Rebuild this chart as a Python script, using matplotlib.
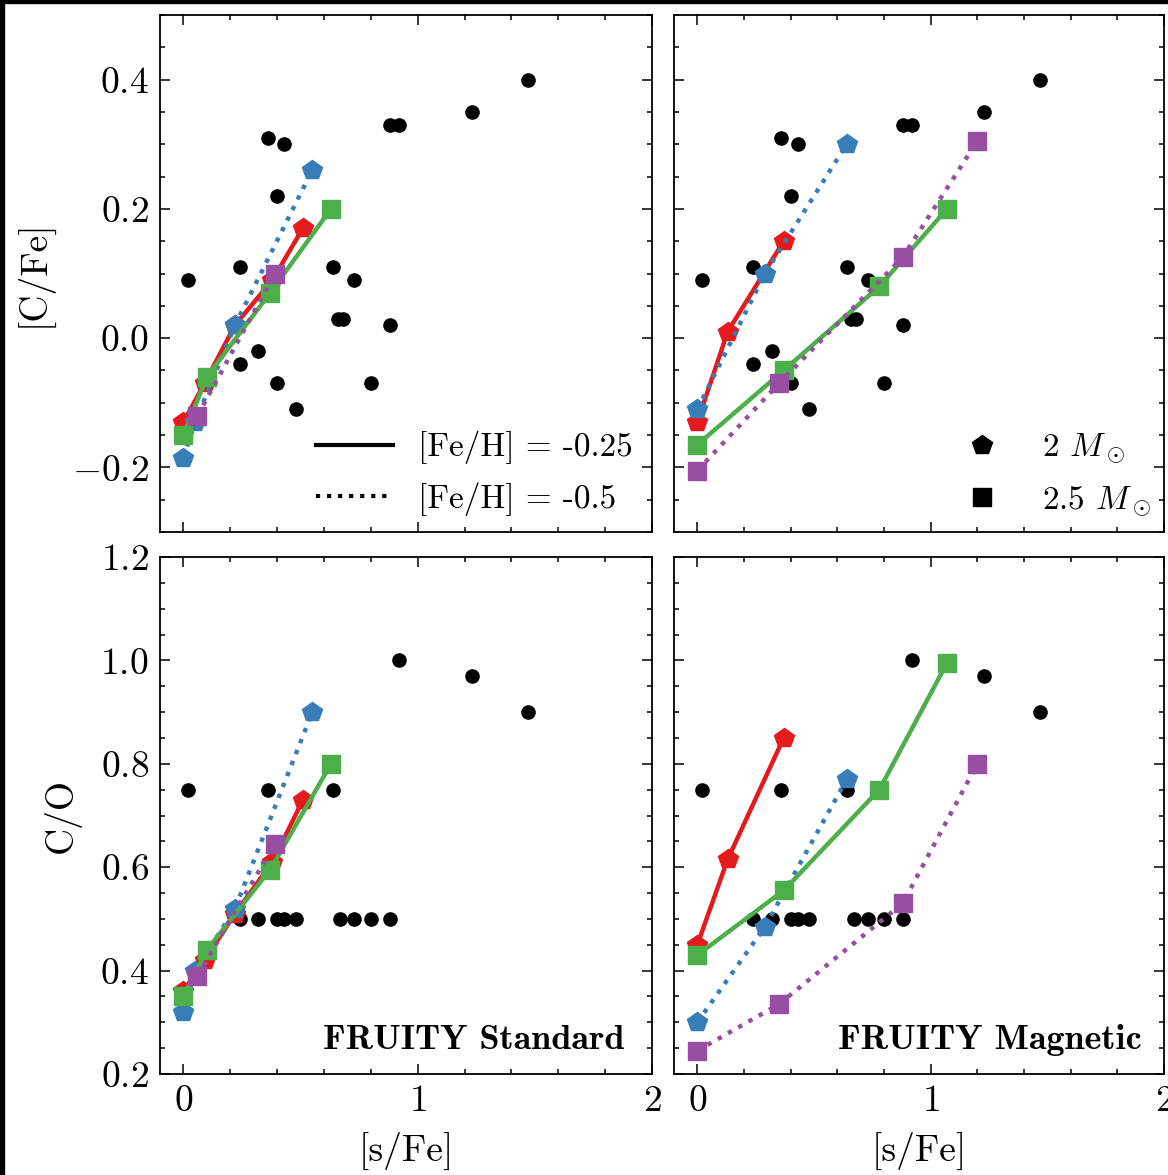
import matplotlib
matplotlib.use("Agg")
import matplotlib.pyplot as plt
from matplotlib.lines import Line2D
from matplotlib.patches import Rectangle
from matplotlib.ticker import MultipleLocator

plt.rcParams.update({
    "font.family": "serif",
    "font.serif": ["cmr10"],
    "mathtext.fontset": "cm",
    "axes.formatter.use_mathtext": True,
    "axes.linewidth": 1.3,
    "xtick.direction": "in",
    "ytick.direction": "in",
    "xtick.top": True,
    "ytick.right": True,
})

# observed stars: [s/Fe], [C/Fe]
obs_sfe = [0.02, 0.24, 0.24, 0.32, 0.36, 0.40, 0.40, 0.43, 0.48, 0.64, 0.66, 0.68,
           0.73, 0.80, 0.88, 0.88, 0.92, 1.23, 1.47]
obs_cfe = [0.09, 0.11, -0.04, -0.02, 0.31, 0.22, -0.07, 0.30, -0.11, 0.11, 0.03, 0.03,
           0.09, -0.07, 0.33, 0.02, 0.33, 0.35, 0.40]
# observed stars: [s/Fe], C/O
obs_sfe_co = [0.02, 0.36, 0.64, 0.92, 1.23, 1.47,
              0.24, 0.32, 0.40, 0.43, 0.48, 0.67, 0.73, 0.80, 0.88]
obs_co = [0.75, 0.75, 0.75, 1.00, 0.97, 0.90,
          0.50, 0.50, 0.50, 0.50, 0.50, 0.50, 0.50, 0.50, 0.50]

# FRUITY standard models
std_red_sfe = [0.0, 0.09, 0.22, 0.38, 0.51]
std_red_cfe = [-0.13, -0.07, 0.02, 0.09, 0.17]
std_red_co = [0.36, 0.42, 0.51, 0.61, 0.73]
std_blue_sfe = [0.0, 0.05, 0.22, 0.55]
std_blue_cfe = [-0.185, -0.13, 0.02, 0.26]
std_blue_co = [0.32, 0.40, 0.52, 0.90]
std_green_sfe = [0.0, 0.10, 0.37, 0.63]
std_green_cfe = [-0.15, -0.06, 0.07, 0.20]
std_green_co = [0.35, 0.44, 0.595, 0.80]
std_purple_sfe = [0.06, 0.39]
std_purple_cfe = [-0.12, 0.10]
std_purple_co = [0.39, 0.645]

# FRUITY magnetic models
mag_red_sfe = [0.0, 0.13, 0.37]
mag_red_cfe = [-0.13, 0.01, 0.15]
mag_red_co = [0.45, 0.615, 0.85]
mag_blue_sfe = [0.0, 0.29, 0.64]
mag_blue_cfe = [-0.11, 0.10, 0.30]
mag_blue_co = [0.30, 0.485, 0.77]
mag_green_sfe = [0.0, 0.37, 0.78, 1.07]
mag_green_cfe = [-0.165, -0.05, 0.08, 0.20]
mag_green_co = [0.43, 0.555, 0.75, 0.995]
mag_purple_sfe = [0.0, 0.35, 0.88, 1.20]
mag_purple_cfe = [-0.205, -0.07, 0.125, 0.305]
mag_purple_co = [0.245, 0.335, 0.53, 0.80]

red = "#e41a1c"
blue = "#377eb8"
green = "#4daf4a"
purple = "#984ea3"

W, H = 1168, 1175
fig = plt.figure(figsize=(W / 100, H / 100), dpi=100)


def box(x0, x1, y0, y1):
    return [x0 / W, 1 - y1 / H, (x1 - x0) / W, (y1 - y0) / H]


ax_tl = fig.add_axes(box(160, 652, 15, 532))
ax_tr = fig.add_axes(box(674, 1164, 15, 532))
ax_bl = fig.add_axes(box(160, 652, 557, 1074))
ax_br = fig.add_axes(box(674, 1164, 557, 1074))


def draw(ax, models, obs_x, obs_y):
    ax.plot(obs_x, obs_y, "o", color="k", ms=9.5, ls="none", zorder=2)
    for x, y, c, m, ls in models:
        ms = 15 if m == "p" else 13.5
        ax.plot(x, y, color=c, ls=ls, lw=3.2, marker=m, ms=ms, mew=1, zorder=3)


std_top = [(std_red_sfe, std_red_cfe, red, "p", "-"),
           (std_blue_sfe, std_blue_cfe, blue, "p", ":"),
           (std_green_sfe, std_green_cfe, green, "s", "-"),
           (std_purple_sfe, std_purple_cfe, purple, "s", ":")]
mag_top = [(mag_red_sfe, mag_red_cfe, red, "p", "-"),
           (mag_blue_sfe, mag_blue_cfe, blue, "p", ":"),
           (mag_green_sfe, mag_green_cfe, green, "s", "-"),
           (mag_purple_sfe, mag_purple_cfe, purple, "s", ":")]
std_bot = [(std_red_sfe, std_red_co, red, "p", "-"),
           (std_blue_sfe, std_blue_co, blue, "p", ":"),
           (std_green_sfe, std_green_co, green, "s", "-"),
           (std_purple_sfe, std_purple_co, purple, "s", ":")]
mag_bot = [(mag_red_sfe, mag_red_co, red, "p", "-"),
           (mag_blue_sfe, mag_blue_co, blue, "p", ":"),
           (mag_green_sfe, mag_green_co, green, "s", "-"),
           (mag_purple_sfe, mag_purple_co, purple, "s", ":")]

draw(ax_tl, std_top, obs_sfe, obs_cfe)
draw(ax_tr, mag_top, obs_sfe, obs_cfe)
draw(ax_bl, std_bot, obs_sfe_co, obs_co)
draw(ax_br, mag_bot, obs_sfe_co, obs_co)

for ax in (ax_tl, ax_tr, ax_bl, ax_br):
    ax.set_xlim(-0.1, 2.0)
    ax.xaxis.set_major_locator(MultipleLocator(1))
    ax.xaxis.set_minor_locator(MultipleLocator(0.2))
    ax.tick_params(which="major", length=7, width=1.1, labelsize=27, pad=8)
    ax.tick_params(which="minor", length=3.6, width=1.1)
    ax.tick_params(which="both", top=True, right=True)

for ax in (ax_tl, ax_tr):
    ax.set_ylim(-0.3, 0.5)
    ax.yaxis.set_major_locator(MultipleLocator(0.2))
    ax.yaxis.set_minor_locator(MultipleLocator(0.05))
    ax.tick_params(labelbottom=False)
for ax in (ax_bl, ax_br):
    ax.set_ylim(0.2, 1.2)
    ax.yaxis.set_major_locator(MultipleLocator(0.2))
    ax.yaxis.set_minor_locator(MultipleLocator(0.05))
    ax.set_xlabel("[s/Fe]", fontsize=27, labelpad=10)
for ax in (ax_tr, ax_br):
    ax.tick_params(labelleft=False)

ax_tl.set_ylabel("[C/Fe]", fontsize=27, labelpad=14)
ax_bl.set_ylabel("C/O", fontsize=27, labelpad=14)

feh_handles = [Line2D([], [], color="k", lw=3, ls="-"),
               Line2D([], [], color="k", lw=3, ls=":")]
ax_tl.legend(feh_handles, ["[Fe/H] = -0.25", "[Fe/H] = -0.5"], loc="lower right",
             bbox_to_anchor=(0.988, 0.005), frameon=False, fontsize=24,
             handlelength=2.3, handletextpad=0.75, borderaxespad=0.0,
             labelspacing=0.55)

mass_handles = [Line2D([], [], color="k", marker="p", ms=15, ls="none"),
                Line2D([], [], color="k", marker="s", ms=13, ls="none")]
ax_tr.legend(mass_handles, [r"2 $M_\odot$", r"2.5 $M_\odot$"], loc="lower right",
             frameon=False, fontsize=24, handlelength=2.0, handletextpad=0.8,
             borderaxespad=0.0, labelspacing=0.55)

ax_bl.text(0.945, 0.035, "FRUITY Standard", transform=ax_bl.transAxes,
           ha="right", va="bottom", fontsize=26, family="cmb10")
ax_br.text(0.955, 0.035, "FRUITY Magnetic", transform=ax_br.transAxes,
           ha="right", va="bottom", fontsize=26, family="cmb10")

fig.patches.append(Rectangle((0, 0), 4 / W, 1, transform=fig.transFigure,
                             color="k", zorder=10))
fig.patches.append(Rectangle((0, 1 - 3 / H), 1, 3 / H, transform=fig.transFigure,
                             color="k", zorder=10))

fig.savefig("out.png", dpi=100)
